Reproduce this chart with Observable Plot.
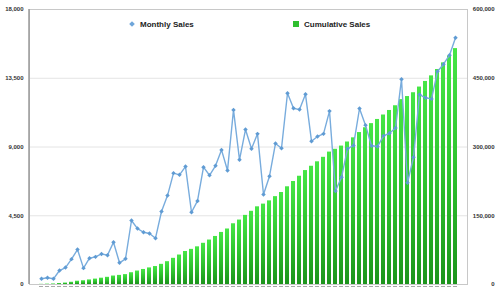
<!DOCTYPE html>
<html><head><meta charset="utf-8">
<script src="https://cdn.jsdelivr.net/npm/d3@7"></script>
<script src="https://cdn.jsdelivr.net/npm/@observablehq/plot@0.6"></script>
<style>
html,body{margin:0;padding:0;background:#fff;}
#wrap{position:relative;width:500px;height:287px;overflow:hidden;font-family:"Liberation Sans",Arial,sans-serif;}
.lg{position:absolute;top:19.5px;font-size:8px;line-height:9px;font-weight:bold;color:#222;white-space:nowrap;}
.dia{position:absolute;left:130px;top:22px;width:4px;height:4px;background:#6fa6da;transform:rotate(45deg);}
.sq{position:absolute;left:293px;top:21px;width:6px;height:6px;background:#2fbf2f;}
</style></head><body>
<div id="wrap"></div>
<script>
// Monthly sales (left axis)
const monthly = [373,440,373,916,1110,1660,2290,1070,1720,1810,
  2000,1920,2770,1420,1680,4190,3660,3420,3340,3030,
  4780,5820,7290,7180,7720,4730,5470,7680,7150,7770,
  8810,7460,11430,8160,10140,8880,9860,5890,7090,9230,
  8920,12520,11540,11450,12450,9380,9690,9860,11350,6120,
  7020,8880,9100,11520,10430,9080,9030,9730,9900,10250,
  13440,6660,8330,12430,12220,12150,13940,14420,15010,16150];
// Cumulative sales (right axis)
const cumulative = [400,800,1200,2100,3200,4900,7200,8200,10000,11800,
  13800,15700,18500,19900,21600,25700,29400,32800,36200,39200,
  44000,49800,57100,64300,72000,76700,82200,89900,97000,104800,
  113600,121100,132500,140600,150800,159700,169500,175400,182500,191700,
  200700,213200,224700,236200,248600,258000,267700,277500,288900,295000,
  302000,310900,320000,331500,342000,351000,360100,369800,379700,390000,
  403400,410100,418400,430800,443000,455200,469100,483500,498600,514700];
const months = monthly.map((_, i) => i + 1);
const leftTicks = [0, 4500, 9000, 13500, 18000];
const rightTicks = [0, 150000, 300000, 450000, 600000];
const legendLabels = ["Monthly Sales", "Cumulative Sales"];

const ratio = 18000 / 600000;
const rows = months.map((m, i) => ({month: m, monthly: monthly[i], cum: cumulative[i]}));
const fmt = d3.format(",");

const chart = Plot.plot({
  width: 500, height: 287,
  marginLeft: 29, marginRight: 33, marginTop: 9, marginBottom: 3,
  style: {fontFamily: "Liberation Sans, Arial, sans-serif", fontSize: "6px", fontWeight: "bold", color: "#333", background: "#fff", overflow: "visible"},
  x: {type: "band", domain: months, paddingInner: 0.28, paddingOuter: 0.17, axis: null, label: null},
  y: {domain: [0, 18000], axis: null, label: null},
  marks: [
    Plot.gridY(leftTicks.slice(1, -1), {stroke: "#e4e4e4", strokeOpacity: 1}),
    Plot.barY(rows, {x: "month", y: d => d.cum * ratio, fill: "url(#barGrad)"}),
    Plot.line(rows, {x: "month", y: "monthly", stroke: "#78acdd", strokeWidth: 1.4}),
    Plot.dot(rows, {x: "month", y: "monthly", symbol: "diamond2", r: 2, fill: "#5f9bd3"}),
    Plot.frame({stroke: "#c8c8c8"}),
    Plot.axisY(leftTicks, {anchor: "left", label: null, tickSize: 0, tickPadding: 6, tickFormat: fmt}),
    Plot.axisY(rightTicks.map(v => v * ratio), {anchor: "right", label: null, tickSize: 0, tickPadding: 0, textAnchor: "end", dx: 27, tickFormat: v => fmt(Math.round(v / ratio))}),
    Plot.tickY(rows, {x: "month", y: () => 0, dy: 2, stroke: "#a8a8a8", strokeWidth: 1})
  ]
});

// gradient for bars
const ns = "http://www.w3.org/2000/svg";
const defs = document.createElementNS(ns, "defs");
const lg = document.createElementNS(ns, "linearGradient");
lg.setAttribute("id", "barGrad");
lg.setAttribute("x1", "0"); lg.setAttribute("y1", "0");
lg.setAttribute("x2", "0"); lg.setAttribute("y2", "1");
[["0%", "#46e646"], ["55%", "#2cbf2c"], ["100%", "#1c941c"]].forEach(([o, c]) => {
  const s = document.createElementNS(ns, "stop");
  s.setAttribute("offset", o); s.setAttribute("stop-color", c);
  lg.appendChild(s);
});
defs.appendChild(lg);
chart.insertBefore(defs, chart.firstChild);

const wrap = document.getElementById("wrap");
wrap.appendChild(chart);
// thicker left frame edge
const leftEdge = document.createElementNS(ns, "line");
leftEdge.setAttribute("x1", 29); leftEdge.setAttribute("x2", 29);
leftEdge.setAttribute("y1", 9); leftEdge.setAttribute("y2", 284);
leftEdge.setAttribute("stroke", "#9a9a9a"); leftEdge.setAttribute("stroke-width", 1.5);
chart.appendChild(leftEdge);

// legend
const d1 = document.createElement("div"); d1.className = "dia"; wrap.appendChild(d1);
const t1 = document.createElement("div"); t1.className = "lg"; t1.style.left = "140px"; t1.textContent = legendLabels[0]; wrap.appendChild(t1);
const d2 = document.createElement("div"); d2.className = "sq"; wrap.appendChild(d2);
const t2 = document.createElement("div"); t2.className = "lg"; t2.style.left = "304px"; t2.textContent = legendLabels[1]; wrap.appendChild(t2);
</script>
</body></html>
